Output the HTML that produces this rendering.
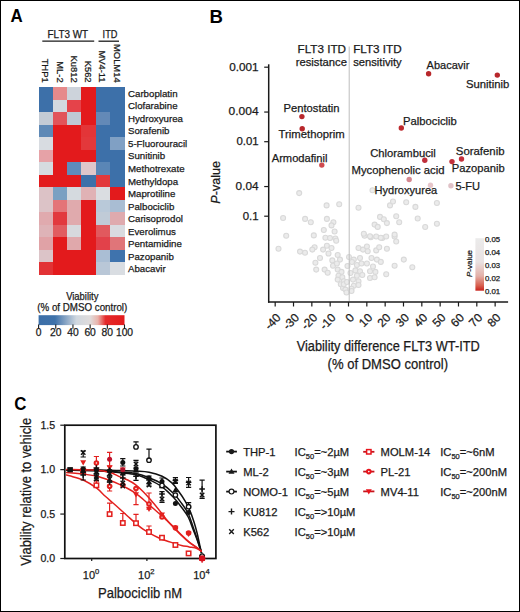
<!DOCTYPE html>
<html><head><meta charset="utf-8"><style>html,body{margin:0;padding:0;background:#fff;}svg{display:block;}text{stroke:#1a1a1a;stroke-width:0.25px;}</style></head>
<body>
<svg width="520" height="612" viewBox="0 0 520 612" font-family='"Liberation Sans", sans-serif'>
<rect x="0" y="0" width="520" height="612" fill="#fff"/>
<text x="10.5" y="22.3" font-size="18.2" font-weight="bold" textLength="12.2" lengthAdjust="spacingAndGlyphs" fill="#000" style="stroke:none">A</text>
<text x="47.6" y="38" font-size="10.2" textLength="40.4" lengthAdjust="spacingAndGlyphs" fill="#1a1a1a">FLT3 WT</text>
<text x="102.6" y="38" font-size="10.2" textLength="14.8" lengthAdjust="spacingAndGlyphs" fill="#1a1a1a">ITD</text>
<line x1="42.3" y1="41.2" x2="94.2" y2="41.2" stroke="#1a1a1a" stroke-width="1.3"/>
<line x1="98.5" y1="41.2" x2="119" y2="41.2" stroke="#1a1a1a" stroke-width="1.3"/>
<text x="0" y="0" font-size="9.4" text-anchor="end" fill="#1a1a1a" transform="translate(42.34,82.6) rotate(90)">THP1</text>
<text x="0" y="0" font-size="9.4" text-anchor="end" fill="#1a1a1a" transform="translate(56.62,82.6) rotate(90)">ML-2</text>
<text x="0" y="0" font-size="9.4" text-anchor="end" fill="#1a1a1a" transform="translate(70.91,82.6) rotate(90)">Ku812</text>
<text x="0" y="0" font-size="9.4" text-anchor="end" fill="#1a1a1a" transform="translate(85.19,82.6) rotate(90)">K562</text>
<text x="0" y="0" font-size="9.4" text-anchor="end" fill="#1a1a1a" transform="translate(99.48,82.6) rotate(90)">MV4-11</text>
<text x="0" y="0" font-size="9.4" text-anchor="end" fill="#1a1a1a" transform="translate(113.76,82.6) rotate(90)">MOLM14</text>
<rect x="38.50" y="87.00" width="14.58" height="12.83" fill="#3d70a9" shape-rendering="crispEdges"/>
<rect x="52.78" y="87.00" width="14.58" height="12.83" fill="#e68a8c" shape-rendering="crispEdges"/>
<rect x="67.07" y="87.00" width="14.58" height="12.83" fill="#cdd3db" shape-rendering="crispEdges"/>
<rect x="81.35" y="87.00" width="14.58" height="12.83" fill="#e31a1c" shape-rendering="crispEdges"/>
<rect x="95.63" y="87.00" width="14.58" height="12.83" fill="#3d70a9" shape-rendering="crispEdges"/>
<rect x="109.92" y="87.00" width="14.58" height="12.83" fill="#3d70a9" shape-rendering="crispEdges"/>
<rect x="38.50" y="99.53" width="14.58" height="12.83" fill="#3d70a9" shape-rendering="crispEdges"/>
<rect x="52.78" y="99.53" width="14.58" height="12.83" fill="#d3d9e0" shape-rendering="crispEdges"/>
<rect x="67.07" y="99.53" width="14.58" height="12.83" fill="#e5434a" shape-rendering="crispEdges"/>
<rect x="81.35" y="99.53" width="14.58" height="12.83" fill="#e31a1c" shape-rendering="crispEdges"/>
<rect x="95.63" y="99.53" width="14.58" height="12.83" fill="#3d70a9" shape-rendering="crispEdges"/>
<rect x="109.92" y="99.53" width="14.58" height="12.83" fill="#3d70a9" shape-rendering="crispEdges"/>
<rect x="38.50" y="112.07" width="14.58" height="12.83" fill="#c3cbd5" shape-rendering="crispEdges"/>
<rect x="52.78" y="112.07" width="14.58" height="12.83" fill="#e2545a" shape-rendering="crispEdges"/>
<rect x="67.07" y="112.07" width="14.58" height="12.83" fill="#bfc9d5" shape-rendering="crispEdges"/>
<rect x="81.35" y="112.07" width="14.58" height="12.83" fill="#e31a1c" shape-rendering="crispEdges"/>
<rect x="95.63" y="112.07" width="14.58" height="12.83" fill="#6389b7" shape-rendering="crispEdges"/>
<rect x="109.92" y="112.07" width="14.58" height="12.83" fill="#3d70a9" shape-rendering="crispEdges"/>
<rect x="38.50" y="124.60" width="14.58" height="12.83" fill="#5e89b6" shape-rendering="crispEdges"/>
<rect x="52.78" y="124.60" width="14.58" height="12.83" fill="#e31a1c" shape-rendering="crispEdges"/>
<rect x="67.07" y="124.60" width="14.58" height="12.83" fill="#e31a1c" shape-rendering="crispEdges"/>
<rect x="81.35" y="124.60" width="14.58" height="12.83" fill="#e33538" shape-rendering="crispEdges"/>
<rect x="95.63" y="124.60" width="14.58" height="12.83" fill="#3d70a9" shape-rendering="crispEdges"/>
<rect x="109.92" y="124.60" width="14.58" height="12.83" fill="#3d70a9" shape-rendering="crispEdges"/>
<rect x="38.50" y="137.13" width="14.58" height="12.83" fill="#d8dce1" shape-rendering="crispEdges"/>
<rect x="52.78" y="137.13" width="14.58" height="12.83" fill="#e31a1c" shape-rendering="crispEdges"/>
<rect x="67.07" y="137.13" width="14.58" height="12.83" fill="#e31a1c" shape-rendering="crispEdges"/>
<rect x="81.35" y="137.13" width="14.58" height="12.83" fill="#e3383b" shape-rendering="crispEdges"/>
<rect x="95.63" y="137.13" width="14.58" height="12.83" fill="#3d70a9" shape-rendering="crispEdges"/>
<rect x="109.92" y="137.13" width="14.58" height="12.83" fill="#80a0c4" shape-rendering="crispEdges"/>
<rect x="38.50" y="149.67" width="14.58" height="12.83" fill="#e6a2a7" shape-rendering="crispEdges"/>
<rect x="52.78" y="149.67" width="14.58" height="12.83" fill="#e31a1c" shape-rendering="crispEdges"/>
<rect x="67.07" y="149.67" width="14.58" height="12.83" fill="#e31a1c" shape-rendering="crispEdges"/>
<rect x="81.35" y="149.67" width="14.58" height="12.83" fill="#e31a1c" shape-rendering="crispEdges"/>
<rect x="95.63" y="149.67" width="14.58" height="12.83" fill="#3d70a9" shape-rendering="crispEdges"/>
<rect x="109.92" y="149.67" width="14.58" height="12.83" fill="#3d70a9" shape-rendering="crispEdges"/>
<rect x="38.50" y="162.20" width="14.58" height="12.83" fill="#d6dbe0" shape-rendering="crispEdges"/>
<rect x="52.78" y="162.20" width="14.58" height="12.83" fill="#e31a1c" shape-rendering="crispEdges"/>
<rect x="67.07" y="162.20" width="14.58" height="12.83" fill="#5f8cbb" shape-rendering="crispEdges"/>
<rect x="81.35" y="162.20" width="14.58" height="12.83" fill="#dfc6ca" shape-rendering="crispEdges"/>
<rect x="95.63" y="162.20" width="14.58" height="12.83" fill="#5a86b6" shape-rendering="crispEdges"/>
<rect x="109.92" y="162.20" width="14.58" height="12.83" fill="#3d70a9" shape-rendering="crispEdges"/>
<rect x="38.50" y="174.73" width="14.58" height="12.83" fill="#e31a1c" shape-rendering="crispEdges"/>
<rect x="52.78" y="174.73" width="14.58" height="12.83" fill="#e31a1c" shape-rendering="crispEdges"/>
<rect x="67.07" y="174.73" width="14.58" height="12.83" fill="#e31a1c" shape-rendering="crispEdges"/>
<rect x="81.35" y="174.73" width="14.58" height="12.83" fill="#3d70a9" shape-rendering="crispEdges"/>
<rect x="95.63" y="174.73" width="14.58" height="12.83" fill="#e2393c" shape-rendering="crispEdges"/>
<rect x="109.92" y="174.73" width="14.58" height="12.83" fill="#3d70a9" shape-rendering="crispEdges"/>
<rect x="38.50" y="187.27" width="14.58" height="12.83" fill="#dcc2c6" shape-rendering="crispEdges"/>
<rect x="52.78" y="187.27" width="14.58" height="12.83" fill="#7aa0c2" shape-rendering="crispEdges"/>
<rect x="67.07" y="187.27" width="14.58" height="12.83" fill="#d5dadf" shape-rendering="crispEdges"/>
<rect x="81.35" y="187.27" width="14.58" height="12.83" fill="#e0b2b5" shape-rendering="crispEdges"/>
<rect x="95.63" y="187.27" width="14.58" height="12.83" fill="#dadde1" shape-rendering="crispEdges"/>
<rect x="109.92" y="187.27" width="14.58" height="12.83" fill="#e31a1c" shape-rendering="crispEdges"/>
<rect x="38.50" y="199.80" width="14.58" height="12.83" fill="#dcc3c7" shape-rendering="crispEdges"/>
<rect x="52.78" y="199.80" width="14.58" height="12.83" fill="#e47478" shape-rendering="crispEdges"/>
<rect x="67.07" y="199.80" width="14.58" height="12.83" fill="#e0aaad" shape-rendering="crispEdges"/>
<rect x="81.35" y="199.80" width="14.58" height="12.83" fill="#e31a1c" shape-rendering="crispEdges"/>
<rect x="95.63" y="199.80" width="14.58" height="12.83" fill="#b9c9d9" shape-rendering="crispEdges"/>
<rect x="109.92" y="199.80" width="14.58" height="12.83" fill="#a9bdd3" shape-rendering="crispEdges"/>
<rect x="38.50" y="212.33" width="14.58" height="12.83" fill="#e0aaae" shape-rendering="crispEdges"/>
<rect x="52.78" y="212.33" width="14.58" height="12.83" fill="#e2393e" shape-rendering="crispEdges"/>
<rect x="67.07" y="212.33" width="14.58" height="12.83" fill="#e0aaad" shape-rendering="crispEdges"/>
<rect x="81.35" y="212.33" width="14.58" height="12.83" fill="#e31a1c" shape-rendering="crispEdges"/>
<rect x="95.63" y="212.33" width="14.58" height="12.83" fill="#c0cbd7" shape-rendering="crispEdges"/>
<rect x="109.92" y="212.33" width="14.58" height="12.83" fill="#dfaaae" shape-rendering="crispEdges"/>
<rect x="38.50" y="224.87" width="14.58" height="12.83" fill="#deb3b7" shape-rendering="crispEdges"/>
<rect x="52.78" y="224.87" width="14.58" height="12.83" fill="#e15c60" shape-rendering="crispEdges"/>
<rect x="67.07" y="224.87" width="14.58" height="12.83" fill="#d7d9dd" shape-rendering="crispEdges"/>
<rect x="81.35" y="224.87" width="14.58" height="12.83" fill="#e31a1c" shape-rendering="crispEdges"/>
<rect x="95.63" y="224.87" width="14.58" height="12.83" fill="#e1595e" shape-rendering="crispEdges"/>
<rect x="109.92" y="224.87" width="14.58" height="12.83" fill="#d9dbe0" shape-rendering="crispEdges"/>
<rect x="38.50" y="237.40" width="14.58" height="12.83" fill="#e0a2a6" shape-rendering="crispEdges"/>
<rect x="52.78" y="237.40" width="14.58" height="12.83" fill="#e31a1c" shape-rendering="crispEdges"/>
<rect x="67.07" y="237.40" width="14.58" height="12.83" fill="#e0a8ab" shape-rendering="crispEdges"/>
<rect x="81.35" y="237.40" width="14.58" height="12.83" fill="#e31a1c" shape-rendering="crispEdges"/>
<rect x="95.63" y="237.40" width="14.58" height="12.83" fill="#e2414a" shape-rendering="crispEdges"/>
<rect x="109.92" y="237.40" width="14.58" height="12.83" fill="#e07579" shape-rendering="crispEdges"/>
<rect x="38.50" y="249.93" width="14.58" height="12.83" fill="#dcc4c8" shape-rendering="crispEdges"/>
<rect x="52.78" y="249.93" width="14.58" height="12.83" fill="#e31a1c" shape-rendering="crispEdges"/>
<rect x="67.07" y="249.93" width="14.58" height="12.83" fill="#e31a1c" shape-rendering="crispEdges"/>
<rect x="81.35" y="249.93" width="14.58" height="12.83" fill="#e31a1c" shape-rendering="crispEdges"/>
<rect x="95.63" y="249.93" width="14.58" height="12.83" fill="#aabed4" shape-rendering="crispEdges"/>
<rect x="109.92" y="249.93" width="14.58" height="12.83" fill="#3f73ad" shape-rendering="crispEdges"/>
<rect x="38.50" y="262.47" width="14.58" height="12.83" fill="#e23235" shape-rendering="crispEdges"/>
<rect x="52.78" y="262.47" width="14.58" height="12.83" fill="#e31a1c" shape-rendering="crispEdges"/>
<rect x="67.07" y="262.47" width="14.58" height="12.83" fill="#e31a1c" shape-rendering="crispEdges"/>
<rect x="81.35" y="262.47" width="14.58" height="12.83" fill="#e31a1c" shape-rendering="crispEdges"/>
<rect x="95.63" y="262.47" width="14.58" height="12.83" fill="#b9c7d7" shape-rendering="crispEdges"/>
<rect x="109.92" y="262.47" width="14.58" height="12.83" fill="#d9dde2" shape-rendering="crispEdges"/>
<text x="128.0" y="96.8" font-size="9.7" fill="#1a1a1a">Carboplatin</text>
<text x="128.0" y="109.33" font-size="9.7" fill="#1a1a1a">Clofarabine</text>
<text x="128.0" y="121.87" font-size="9.7" fill="#1a1a1a">Hydroxyurea</text>
<text x="128.0" y="134.4" font-size="9.7" fill="#1a1a1a">Sorafenib</text>
<text x="128.0" y="146.93" font-size="9.7" fill="#1a1a1a">5-Fluorouracil</text>
<text x="128.0" y="159.47" font-size="9.7" fill="#1a1a1a">Sunitinib</text>
<text x="128.0" y="172.0" font-size="9.7" fill="#1a1a1a">Methotrexate</text>
<text x="128.0" y="184.53" font-size="9.7" fill="#1a1a1a">Methyldopa</text>
<text x="128.0" y="197.07" font-size="9.7" fill="#1a1a1a">Maprotiline</text>
<text x="128.0" y="209.6" font-size="9.7" fill="#1a1a1a">Palbociclib</text>
<text x="128.0" y="222.13" font-size="9.7" fill="#1a1a1a">Carisoprodol</text>
<text x="128.0" y="234.67" font-size="9.7" fill="#1a1a1a">Everolimus</text>
<text x="128.0" y="247.2" font-size="9.7" fill="#1a1a1a">Pentamidine</text>
<text x="128.0" y="259.73" font-size="9.7" fill="#1a1a1a">Pazopanib</text>
<text x="128.0" y="272.27" font-size="9.7" fill="#1a1a1a">Abacavir</text>
<text x="82.3" y="300" font-size="10.2" text-anchor="middle" textLength="32.3" lengthAdjust="spacingAndGlyphs" fill="#1a1a1a">Viability</text>
<text x="82.3" y="311.2" font-size="10.2" text-anchor="middle" textLength="90" lengthAdjust="spacingAndGlyphs" fill="#1a1a1a">(% of DMSO control)</text>
<defs><linearGradient id="cbA" x1="0" x2="1" y1="0" y2="0"><stop offset="0" stop-color="#3b6fa8"/><stop offset="0.19" stop-color="#3f72aa"/><stop offset="0.44" stop-color="#d0d7df"/><stop offset="0.6" stop-color="#e0dcdc"/><stop offset="0.69" stop-color="#e9b3ab"/><stop offset="0.78" stop-color="#e42a2a"/><stop offset="1" stop-color="#e31a1c"/></linearGradient><linearGradient id="cbB" x1="0" x2="0" y1="0" y2="1"><stop offset="0" stop-color="#ebebeb"/><stop offset="0.45" stop-color="#e9e2e2"/><stop offset="0.72" stop-color="#e3b0a8"/><stop offset="0.9" stop-color="#d8604f"/><stop offset="1" stop-color="#c8231d"/></linearGradient></defs>
<rect x="38.6" y="315.2" width="85.9" height="9.9" fill="url(#cbA)"/>
<line x1="38.60" y1="324.5" x2="38.60" y2="328.8" stroke="#1a1a1a" stroke-width="1.1"/>
<text x="38.6" y="336" font-size="10.3" text-anchor="middle" fill="#1a1a1a">0</text>
<line x1="55.78" y1="324.5" x2="55.78" y2="328.8" stroke="#1a1a1a" stroke-width="1.1"/>
<text x="55.78" y="336" font-size="10.3" text-anchor="middle" fill="#1a1a1a">20</text>
<line x1="72.96" y1="324.5" x2="72.96" y2="328.8" stroke="#1a1a1a" stroke-width="1.1"/>
<text x="72.96" y="336" font-size="10.3" text-anchor="middle" fill="#1a1a1a">40</text>
<line x1="90.14" y1="324.5" x2="90.14" y2="328.8" stroke="#1a1a1a" stroke-width="1.1"/>
<text x="90.14" y="336" font-size="10.3" text-anchor="middle" fill="#1a1a1a">60</text>
<line x1="107.32" y1="324.5" x2="107.32" y2="328.8" stroke="#1a1a1a" stroke-width="1.1"/>
<text x="107.32" y="336" font-size="10.3" text-anchor="middle" fill="#1a1a1a">80</text>
<line x1="124.50" y1="324.5" x2="124.50" y2="328.8" stroke="#1a1a1a" stroke-width="1.1"/>
<text x="124.5" y="336" font-size="10.3" text-anchor="middle" fill="#1a1a1a">100</text>
<text x="209.6" y="22.8" font-size="18.6" font-weight="bold" fill="#000" style="stroke:none">B</text>
<line x1="268.7" y1="64.3" x2="268.7" y2="302.7" stroke="#1a1a1a" stroke-width="1.5"/>
<line x1="268.0" y1="302.0" x2="508.1" y2="302.0" stroke="#1a1a1a" stroke-width="1.5"/>
<line x1="264.2" y1="67.20" x2="268.7" y2="67.20" stroke="#1a1a1a" stroke-width="1.2"/>
<text x="258.6" y="70.6" font-size="11.2" text-anchor="end" textLength="29.4" lengthAdjust="spacingAndGlyphs" fill="#1a1a1a">0.001</text>
<line x1="264.2" y1="112.05" x2="268.7" y2="112.05" stroke="#1a1a1a" stroke-width="1.2"/>
<text x="258.6" y="115.45" font-size="11.2" text-anchor="end" textLength="30.0" lengthAdjust="spacingAndGlyphs" fill="#1a1a1a">0.004</text>
<line x1="264.2" y1="141.70" x2="268.7" y2="141.70" stroke="#1a1a1a" stroke-width="1.2"/>
<text x="258.6" y="145.1" font-size="11.2" text-anchor="end" textLength="22.2" lengthAdjust="spacingAndGlyphs" fill="#1a1a1a">0.01</text>
<line x1="264.2" y1="186.55" x2="268.7" y2="186.55" stroke="#1a1a1a" stroke-width="1.2"/>
<text x="258.6" y="189.95" font-size="11.2" text-anchor="end" textLength="23.0" lengthAdjust="spacingAndGlyphs" fill="#1a1a1a">0.04</text>
<line x1="264.2" y1="216.20" x2="268.7" y2="216.20" stroke="#1a1a1a" stroke-width="1.2"/>
<text x="258.6" y="219.6" font-size="11.2" text-anchor="end" textLength="15.9" lengthAdjust="spacingAndGlyphs" fill="#1a1a1a">0.1</text>
<line x1="275.18" y1="302.0" x2="275.18" y2="306.5" stroke="#1a1a1a" stroke-width="1.2"/>
<text x="0" y="0" font-size="11.8" text-anchor="end" fill="#1a1a1a" transform="translate(281.48,318.4) rotate(-45)">-40</text>
<line x1="293.51" y1="302.0" x2="293.51" y2="306.5" stroke="#1a1a1a" stroke-width="1.2"/>
<text x="0" y="0" font-size="11.8" text-anchor="end" fill="#1a1a1a" transform="translate(299.81,318.4) rotate(-45)">-30</text>
<line x1="311.84" y1="302.0" x2="311.84" y2="306.5" stroke="#1a1a1a" stroke-width="1.2"/>
<text x="0" y="0" font-size="11.8" text-anchor="end" fill="#1a1a1a" transform="translate(318.14,318.4) rotate(-45)">-20</text>
<line x1="330.17" y1="302.0" x2="330.17" y2="306.5" stroke="#1a1a1a" stroke-width="1.2"/>
<text x="0" y="0" font-size="11.8" text-anchor="end" fill="#1a1a1a" transform="translate(336.47,318.4) rotate(-45)">-10</text>
<line x1="348.50" y1="302.0" x2="348.50" y2="306.5" stroke="#1a1a1a" stroke-width="1.2"/>
<text x="0" y="0" font-size="11.8" text-anchor="end" fill="#1a1a1a" transform="translate(354.80,318.4) rotate(-45)">0</text>
<line x1="366.83" y1="302.0" x2="366.83" y2="306.5" stroke="#1a1a1a" stroke-width="1.2"/>
<text x="0" y="0" font-size="11.8" text-anchor="end" fill="#1a1a1a" transform="translate(373.13,318.4) rotate(-45)">10</text>
<line x1="385.16" y1="302.0" x2="385.16" y2="306.5" stroke="#1a1a1a" stroke-width="1.2"/>
<text x="0" y="0" font-size="11.8" text-anchor="end" fill="#1a1a1a" transform="translate(391.46,318.4) rotate(-45)">20</text>
<line x1="403.49" y1="302.0" x2="403.49" y2="306.5" stroke="#1a1a1a" stroke-width="1.2"/>
<text x="0" y="0" font-size="11.8" text-anchor="end" fill="#1a1a1a" transform="translate(409.79,318.4) rotate(-45)">30</text>
<line x1="421.82" y1="302.0" x2="421.82" y2="306.5" stroke="#1a1a1a" stroke-width="1.2"/>
<text x="0" y="0" font-size="11.8" text-anchor="end" fill="#1a1a1a" transform="translate(428.12,318.4) rotate(-45)">40</text>
<line x1="440.15" y1="302.0" x2="440.15" y2="306.5" stroke="#1a1a1a" stroke-width="1.2"/>
<text x="0" y="0" font-size="11.8" text-anchor="end" fill="#1a1a1a" transform="translate(446.45,318.4) rotate(-45)">50</text>
<line x1="458.48" y1="302.0" x2="458.48" y2="306.5" stroke="#1a1a1a" stroke-width="1.2"/>
<text x="0" y="0" font-size="11.8" text-anchor="end" fill="#1a1a1a" transform="translate(464.78,318.4) rotate(-45)">60</text>
<line x1="476.81" y1="302.0" x2="476.81" y2="306.5" stroke="#1a1a1a" stroke-width="1.2"/>
<text x="0" y="0" font-size="11.8" text-anchor="end" fill="#1a1a1a" transform="translate(483.11,318.4) rotate(-45)">70</text>
<line x1="495.14" y1="302.0" x2="495.14" y2="306.5" stroke="#1a1a1a" stroke-width="1.2"/>
<text x="0" y="0" font-size="11.8" text-anchor="end" fill="#1a1a1a" transform="translate(501.44,318.4) rotate(-45)">80</text>
<text x="388.2" y="350.9" font-size="14" text-anchor="middle" textLength="183" lengthAdjust="spacingAndGlyphs" fill="#1a1a1a">Viability difference FLT3 WT-ITD</text>
<text x="387.8" y="368.8" font-size="14" text-anchor="middle" textLength="120.5" lengthAdjust="spacingAndGlyphs" fill="#1a1a1a">(% of DMSO control)</text>
<text x="0" y="0" font-size="12.6" text-anchor="middle" fill="#1a1a1a" transform="translate(219.6,182.3) rotate(-90)"><tspan font-style="italic">P</tspan>-value</text>
<text x="346.0" y="52.8" font-size="11.2" text-anchor="end" textLength="48.5" lengthAdjust="spacingAndGlyphs" fill="#1a1a1a">FLT3 ITD</text>
<text x="347.0" y="66.4" font-size="11.2" text-anchor="end" textLength="51.3" lengthAdjust="spacingAndGlyphs" fill="#1a1a1a">resistance</text>
<text x="353.2" y="52.8" font-size="11.2" textLength="48.5" lengthAdjust="spacingAndGlyphs" fill="#1a1a1a">FLT3 ITD</text>
<text x="353.2" y="66.4" font-size="11.2" textLength="48.5" lengthAdjust="spacingAndGlyphs" fill="#1a1a1a">sensitivity</text>
<circle cx="299.2" cy="193.1" r="2.5" fill="#ebebeb" stroke="#d9d9d9" stroke-width="1.1"/>
<circle cx="326.6" cy="205.4" r="2.5" fill="#ebebeb" stroke="#d9d9d9" stroke-width="1.1"/>
<circle cx="339.2" cy="204.3" r="2.5" fill="#ebebeb" stroke="#d9d9d9" stroke-width="1.1"/>
<circle cx="283.1" cy="218" r="2.5" fill="#ebebeb" stroke="#d9d9d9" stroke-width="1.1"/>
<circle cx="305.1" cy="218.9" r="2.5" fill="#ebebeb" stroke="#d9d9d9" stroke-width="1.1"/>
<circle cx="310.8" cy="222.3" r="2.5" fill="#ebebeb" stroke="#d9d9d9" stroke-width="1.1"/>
<circle cx="326.9" cy="218.9" r="2.5" fill="#ebebeb" stroke="#d9d9d9" stroke-width="1.1"/>
<circle cx="333.4" cy="222.3" r="2.5" fill="#ebebeb" stroke="#d9d9d9" stroke-width="1.1"/>
<circle cx="331.5" cy="225.4" r="2.5" fill="#ebebeb" stroke="#d9d9d9" stroke-width="1.1"/>
<circle cx="323.8" cy="230" r="2.5" fill="#ebebeb" stroke="#d9d9d9" stroke-width="1.1"/>
<circle cx="334.6" cy="231.5" r="2.5" fill="#ebebeb" stroke="#d9d9d9" stroke-width="1.1"/>
<circle cx="286.2" cy="235.7" r="2.5" fill="#ebebeb" stroke="#d9d9d9" stroke-width="1.1"/>
<circle cx="313.8" cy="235.4" r="2.5" fill="#ebebeb" stroke="#d9d9d9" stroke-width="1.1"/>
<circle cx="325.4" cy="237.7" r="2.5" fill="#ebebeb" stroke="#d9d9d9" stroke-width="1.1"/>
<circle cx="335.4" cy="238.5" r="2.5" fill="#ebebeb" stroke="#d9d9d9" stroke-width="1.1"/>
<circle cx="330" cy="238" r="2.5" fill="#ebebeb" stroke="#d9d9d9" stroke-width="1.1"/>
<circle cx="336.2" cy="240.8" r="2.5" fill="#ebebeb" stroke="#d9d9d9" stroke-width="1.1"/>
<circle cx="278.5" cy="248.8" r="2.5" fill="#ebebeb" stroke="#d9d9d9" stroke-width="1.1"/>
<circle cx="300" cy="251.6" r="2.5" fill="#ebebeb" stroke="#d9d9d9" stroke-width="1.1"/>
<circle cx="305" cy="252.7" r="2.5" fill="#ebebeb" stroke="#d9d9d9" stroke-width="1.1"/>
<circle cx="314.6" cy="247.3" r="2.5" fill="#ebebeb" stroke="#d9d9d9" stroke-width="1.1"/>
<circle cx="312.3" cy="249.6" r="2.5" fill="#ebebeb" stroke="#d9d9d9" stroke-width="1.1"/>
<circle cx="323.1" cy="249.6" r="2.5" fill="#ebebeb" stroke="#d9d9d9" stroke-width="1.1"/>
<circle cx="326.9" cy="245.8" r="2.5" fill="#ebebeb" stroke="#d9d9d9" stroke-width="1.1"/>
<circle cx="331.5" cy="248" r="2.5" fill="#ebebeb" stroke="#d9d9d9" stroke-width="1.1"/>
<circle cx="328.5" cy="253.5" r="2.5" fill="#ebebeb" stroke="#d9d9d9" stroke-width="1.1"/>
<circle cx="320" cy="258" r="2.5" fill="#ebebeb" stroke="#d9d9d9" stroke-width="1.1"/>
<circle cx="315.4" cy="262.7" r="2.5" fill="#ebebeb" stroke="#d9d9d9" stroke-width="1.1"/>
<circle cx="316.2" cy="269.6" r="2.5" fill="#ebebeb" stroke="#d9d9d9" stroke-width="1.1"/>
<circle cx="324.6" cy="269.6" r="2.5" fill="#ebebeb" stroke="#d9d9d9" stroke-width="1.1"/>
<circle cx="327.7" cy="272.7" r="2.5" fill="#ebebeb" stroke="#d9d9d9" stroke-width="1.1"/>
<circle cx="332.3" cy="260.4" r="2.5" fill="#ebebeb" stroke="#d9d9d9" stroke-width="1.1"/>
<circle cx="337.7" cy="255" r="2.5" fill="#ebebeb" stroke="#d9d9d9" stroke-width="1.1"/>
<circle cx="340" cy="259.6" r="2.5" fill="#ebebeb" stroke="#d9d9d9" stroke-width="1.1"/>
<circle cx="333" cy="265.8" r="2.5" fill="#ebebeb" stroke="#d9d9d9" stroke-width="1.1"/>
<circle cx="336.9" cy="263.5" r="2.5" fill="#ebebeb" stroke="#d9d9d9" stroke-width="1.1"/>
<circle cx="337.7" cy="269.6" r="2.5" fill="#ebebeb" stroke="#d9d9d9" stroke-width="1.1"/>
<circle cx="341.5" cy="271.9" r="2.5" fill="#ebebeb" stroke="#d9d9d9" stroke-width="1.1"/>
<circle cx="338.5" cy="275.8" r="2.5" fill="#ebebeb" stroke="#d9d9d9" stroke-width="1.1"/>
<circle cx="342.3" cy="277.3" r="2.5" fill="#ebebeb" stroke="#d9d9d9" stroke-width="1.1"/>
<circle cx="337.7" cy="279.6" r="2.5" fill="#ebebeb" stroke="#d9d9d9" stroke-width="1.1"/>
<circle cx="340.8" cy="284.2" r="2.5" fill="#ebebeb" stroke="#d9d9d9" stroke-width="1.1"/>
<circle cx="343.8" cy="281.2" r="2.5" fill="#ebebeb" stroke="#d9d9d9" stroke-width="1.1"/>
<circle cx="343" cy="288" r="2.5" fill="#ebebeb" stroke="#d9d9d9" stroke-width="1.1"/>
<circle cx="345.4" cy="289.6" r="2.5" fill="#ebebeb" stroke="#d9d9d9" stroke-width="1.1"/>
<circle cx="364.6" cy="235.8" r="2.5" fill="#ebebeb" stroke="#d9d9d9" stroke-width="1.1"/>
<circle cx="370.8" cy="237.3" r="2.5" fill="#ebebeb" stroke="#d9d9d9" stroke-width="1.1"/>
<circle cx="376.2" cy="236.5" r="2.5" fill="#ebebeb" stroke="#d9d9d9" stroke-width="1.1"/>
<circle cx="382.3" cy="238" r="2.5" fill="#ebebeb" stroke="#d9d9d9" stroke-width="1.1"/>
<circle cx="386.2" cy="236.5" r="2.5" fill="#ebebeb" stroke="#d9d9d9" stroke-width="1.1"/>
<circle cx="394.6" cy="236.5" r="2.5" fill="#ebebeb" stroke="#d9d9d9" stroke-width="1.1"/>
<circle cx="396.2" cy="241.5" r="2.5" fill="#ebebeb" stroke="#d9d9d9" stroke-width="1.1"/>
<circle cx="358.5" cy="248" r="2.5" fill="#ebebeb" stroke="#d9d9d9" stroke-width="1.1"/>
<circle cx="363" cy="249.6" r="2.5" fill="#ebebeb" stroke="#d9d9d9" stroke-width="1.1"/>
<circle cx="366.9" cy="246.5" r="2.5" fill="#ebebeb" stroke="#d9d9d9" stroke-width="1.1"/>
<circle cx="367.7" cy="251.2" r="2.5" fill="#ebebeb" stroke="#d9d9d9" stroke-width="1.1"/>
<circle cx="376.2" cy="250.4" r="2.5" fill="#ebebeb" stroke="#d9d9d9" stroke-width="1.1"/>
<circle cx="379.2" cy="247.3" r="2.5" fill="#ebebeb" stroke="#d9d9d9" stroke-width="1.1"/>
<circle cx="386.9" cy="248.8" r="2.5" fill="#ebebeb" stroke="#d9d9d9" stroke-width="1.1"/>
<circle cx="353.8" cy="259.6" r="2.5" fill="#ebebeb" stroke="#d9d9d9" stroke-width="1.1"/>
<circle cx="360" cy="258" r="2.5" fill="#ebebeb" stroke="#d9d9d9" stroke-width="1.1"/>
<circle cx="356.9" cy="265" r="2.5" fill="#ebebeb" stroke="#d9d9d9" stroke-width="1.1"/>
<circle cx="361.5" cy="263.5" r="2.5" fill="#ebebeb" stroke="#d9d9d9" stroke-width="1.1"/>
<circle cx="366.9" cy="263.5" r="2.5" fill="#ebebeb" stroke="#d9d9d9" stroke-width="1.1"/>
<circle cx="371.5" cy="258" r="2.5" fill="#ebebeb" stroke="#d9d9d9" stroke-width="1.1"/>
<circle cx="376.9" cy="259.6" r="2.5" fill="#ebebeb" stroke="#d9d9d9" stroke-width="1.1"/>
<circle cx="380.8" cy="261.9" r="2.5" fill="#ebebeb" stroke="#d9d9d9" stroke-width="1.1"/>
<circle cx="373" cy="266.5" r="2.5" fill="#ebebeb" stroke="#d9d9d9" stroke-width="1.1"/>
<circle cx="370" cy="271.2" r="2.5" fill="#ebebeb" stroke="#d9d9d9" stroke-width="1.1"/>
<circle cx="375.4" cy="271.9" r="2.5" fill="#ebebeb" stroke="#d9d9d9" stroke-width="1.1"/>
<circle cx="355.4" cy="270.4" r="2.5" fill="#ebebeb" stroke="#d9d9d9" stroke-width="1.1"/>
<circle cx="360" cy="271.2" r="2.5" fill="#ebebeb" stroke="#d9d9d9" stroke-width="1.1"/>
<circle cx="356.9" cy="275.8" r="2.5" fill="#ebebeb" stroke="#d9d9d9" stroke-width="1.1"/>
<circle cx="362.3" cy="275" r="2.5" fill="#ebebeb" stroke="#d9d9d9" stroke-width="1.1"/>
<circle cx="353" cy="279.6" r="2.5" fill="#ebebeb" stroke="#d9d9d9" stroke-width="1.1"/>
<circle cx="358.5" cy="281.2" r="2.5" fill="#ebebeb" stroke="#d9d9d9" stroke-width="1.1"/>
<circle cx="370" cy="278" r="2.5" fill="#ebebeb" stroke="#d9d9d9" stroke-width="1.1"/>
<circle cx="374.6" cy="277.3" r="2.5" fill="#ebebeb" stroke="#d9d9d9" stroke-width="1.1"/>
<circle cx="353.8" cy="285.8" r="2.5" fill="#ebebeb" stroke="#d9d9d9" stroke-width="1.1"/>
<circle cx="358.5" cy="285" r="2.5" fill="#ebebeb" stroke="#d9d9d9" stroke-width="1.1"/>
<circle cx="351.5" cy="288.8" r="2.5" fill="#ebebeb" stroke="#d9d9d9" stroke-width="1.1"/>
<circle cx="386.2" cy="274.2" r="2.5" fill="#ebebeb" stroke="#d9d9d9" stroke-width="1.1"/>
<circle cx="394.6" cy="265.8" r="2.5" fill="#ebebeb" stroke="#d9d9d9" stroke-width="1.1"/>
<circle cx="403.8" cy="259.6" r="2.5" fill="#ebebeb" stroke="#d9d9d9" stroke-width="1.1"/>
<circle cx="412.3" cy="267.3" r="2.5" fill="#ebebeb" stroke="#d9d9d9" stroke-width="1.1"/>
<circle cx="343.8" cy="284.2" r="2.5" fill="#ebebeb" stroke="#d9d9d9" stroke-width="1.1"/>
<circle cx="358.5" cy="207.7" r="2.5" fill="#ebebeb" stroke="#d9d9d9" stroke-width="1.1"/>
<circle cx="372.5" cy="190.2" r="2.5" fill="#ebebeb" stroke="#d9d9d9" stroke-width="1.1"/>
<circle cx="390" cy="205.4" r="2.5" fill="#ebebeb" stroke="#d9d9d9" stroke-width="1.1"/>
<circle cx="393" cy="201.5" r="2.5" fill="#ebebeb" stroke="#d9d9d9" stroke-width="1.1"/>
<circle cx="406.2" cy="202.3" r="2.5" fill="#ebebeb" stroke="#d9d9d9" stroke-width="1.1"/>
<circle cx="415.4" cy="206.9" r="2.5" fill="#ebebeb" stroke="#d9d9d9" stroke-width="1.1"/>
<circle cx="380" cy="216.9" r="2.5" fill="#ebebeb" stroke="#d9d9d9" stroke-width="1.1"/>
<circle cx="383.8" cy="219.2" r="2.5" fill="#ebebeb" stroke="#d9d9d9" stroke-width="1.1"/>
<circle cx="386.9" cy="223.1" r="2.5" fill="#ebebeb" stroke="#d9d9d9" stroke-width="1.1"/>
<circle cx="396.2" cy="216.2" r="2.5" fill="#ebebeb" stroke="#d9d9d9" stroke-width="1.1"/>
<circle cx="399.2" cy="222.3" r="2.5" fill="#ebebeb" stroke="#d9d9d9" stroke-width="1.1"/>
<circle cx="417.7" cy="218.5" r="2.5" fill="#ebebeb" stroke="#d9d9d9" stroke-width="1.1"/>
<circle cx="374.6" cy="224.6" r="2.5" fill="#ebebeb" stroke="#d9d9d9" stroke-width="1.1"/>
<circle cx="377.7" cy="226.9" r="2.5" fill="#ebebeb" stroke="#d9d9d9" stroke-width="1.1"/>
<circle cx="363.8" cy="233.8" r="2.5" fill="#ebebeb" stroke="#d9d9d9" stroke-width="1.1"/>
<circle cx="370" cy="236.2" r="2.5" fill="#ebebeb" stroke="#d9d9d9" stroke-width="1.1"/>
<circle cx="380.8" cy="237.7" r="2.5" fill="#ebebeb" stroke="#d9d9d9" stroke-width="1.1"/>
<circle cx="394.6" cy="234.6" r="2.5" fill="#ebebeb" stroke="#d9d9d9" stroke-width="1.1"/>
<circle cx="436.9" cy="203" r="2.5" fill="#ebebeb" stroke="#d9d9d9" stroke-width="1.1"/>
<circle cx="425.2" cy="227" r="2.5" fill="#ebebeb" stroke="#d9d9d9" stroke-width="1.1"/>
<circle cx="436.9" cy="223.8" r="2.5" fill="#ebebeb" stroke="#d9d9d9" stroke-width="1.1"/>
<circle cx="347.5" cy="266" r="2.5" fill="#ebebeb" stroke="#d9d9d9" stroke-width="1.1"/>
<circle cx="350.5" cy="273" r="2.5" fill="#ebebeb" stroke="#d9d9d9" stroke-width="1.1"/>
<circle cx="347" cy="282" r="2.5" fill="#ebebeb" stroke="#d9d9d9" stroke-width="1.1"/>
<circle cx="351.5" cy="291" r="2.5" fill="#ebebeb" stroke="#d9d9d9" stroke-width="1.1"/>
<circle cx="346.5" cy="292.5" r="2.5" fill="#ebebeb" stroke="#d9d9d9" stroke-width="1.1"/>
<circle cx="352" cy="262" r="2.5" fill="#ebebeb" stroke="#d9d9d9" stroke-width="1.1"/>
<circle cx="349" cy="257" r="2.5" fill="#ebebeb" stroke="#d9d9d9" stroke-width="1.1"/>
<line x1="349.2" y1="46.5" x2="349.2" y2="301" stroke="#bdbdbd" stroke-width="1"/>
<circle cx="428.6" cy="73.8" r="2.7" fill="#b8272b"/>
<circle cx="497.3" cy="75.1" r="2.7" fill="#b8272b"/>
<circle cx="301.9" cy="116.6" r="2.7" fill="#b8272b"/>
<circle cx="302.2" cy="128.7" r="2.7" fill="#b8272b"/>
<circle cx="401.3" cy="128" r="2.7" fill="#bd2a2e"/>
<circle cx="321.8" cy="165.1" r="2.7" fill="#cf4a4e"/>
<circle cx="424.8" cy="160.2" r="2.7" fill="#bf2e3a"/>
<circle cx="461.5" cy="159" r="2.7" fill="#c22f3a"/>
<circle cx="452" cy="161.6" r="2.7" fill="#c2313b"/>
<circle cx="409.2" cy="179.5" r="2.7" fill="#d48890"/>
<circle cx="430.5" cy="185.2" r="2.7" fill="#e6c6ca"/>
<circle cx="450.9" cy="185.8" r="2.7" fill="#e0c2c7"/>
<text x="426.6" y="68.7" font-size="11.2" textLength="42.8" lengthAdjust="spacingAndGlyphs" fill="#1a1a1a">Abacavir</text>
<text x="466.0" y="87.9" font-size="11.2" textLength="43.3" lengthAdjust="spacingAndGlyphs" fill="#1a1a1a">Sunitinib</text>
<text x="283.5" y="112.3" font-size="11.2" textLength="56.1" lengthAdjust="spacingAndGlyphs" fill="#1a1a1a">Pentostatin</text>
<text x="278.6" y="138.3" font-size="11.2" textLength="66.2" lengthAdjust="spacingAndGlyphs" fill="#1a1a1a">Trimethoprim</text>
<text x="403.1" y="124.5" font-size="11.2" textLength="53.7" lengthAdjust="spacingAndGlyphs" fill="#1a1a1a">Palbociclib</text>
<text x="271.7" y="162.2" font-size="11.2" textLength="55.8" lengthAdjust="spacingAndGlyphs" fill="#1a1a1a">Armodafinil</text>
<text x="370.2" y="156.8" font-size="11.2" textLength="65.6" lengthAdjust="spacingAndGlyphs" fill="#1a1a1a">Chlorambucil</text>
<text x="455.8" y="154.7" font-size="11.2" textLength="48.8" lengthAdjust="spacingAndGlyphs" fill="#1a1a1a">Sorafenib</text>
<text x="351.5" y="173.7" font-size="11.2" textLength="93" lengthAdjust="spacingAndGlyphs" fill="#1a1a1a">Mycophenolic acid</text>
<text x="451.8" y="172.0" font-size="11.2" textLength="52.8" lengthAdjust="spacingAndGlyphs" fill="#1a1a1a">Pazopanib</text>
<text x="374.5" y="193.7" font-size="11.2" textLength="62.7" lengthAdjust="spacingAndGlyphs" fill="#1a1a1a">Hydroxyurea</text>
<text x="455.4" y="190.2" font-size="11.2" textLength="24.6" lengthAdjust="spacingAndGlyphs" fill="#1a1a1a">5-FU</text>
<rect x="475.4" y="238.2" width="8.6" height="52.5" fill="url(#cbB)"/>
<text x="485.0" y="242.3" font-size="7.4" textLength="15.2" lengthAdjust="spacingAndGlyphs" fill="#1a1a1a">0.05</text>
<text x="485.0" y="255.2" font-size="7.4" textLength="15.2" lengthAdjust="spacingAndGlyphs" fill="#1a1a1a">0.04</text>
<text x="485.0" y="268.1" font-size="7.4" textLength="15.2" lengthAdjust="spacingAndGlyphs" fill="#1a1a1a">0.03</text>
<text x="485.0" y="281.0" font-size="7.4" textLength="15.2" lengthAdjust="spacingAndGlyphs" fill="#1a1a1a">0.02</text>
<text x="485.0" y="293.9" font-size="7.4" textLength="15.2" lengthAdjust="spacingAndGlyphs" fill="#1a1a1a">0.01</text>
<text x="0" y="0" font-size="8" text-anchor="middle" fill="#1a1a1a" transform="translate(471.8,263.5) rotate(-90)"><tspan font-style="italic">P</tspan>-value</text>
<text x="14.2" y="409.9" font-size="19" font-weight="bold" textLength="12.2" lengthAdjust="spacingAndGlyphs" fill="#000" style="stroke:none">C</text>
<rect x="64.8" y="425.2" width="151.10" height="133.30" fill="none" stroke="#111" stroke-width="1.7"/>
<line x1="60.3" y1="425.20" x2="64.8" y2="425.20" stroke="#1a1a1a" stroke-width="1.2"/>
<text x="55.2" y="428.9" font-size="10.6" text-anchor="end" fill="#1a1a1a">1.5</text>
<line x1="60.3" y1="469.63" x2="64.8" y2="469.63" stroke="#1a1a1a" stroke-width="1.2"/>
<text x="55.2" y="473.33" font-size="10.6" text-anchor="end" fill="#1a1a1a">1.0</text>
<line x1="60.3" y1="514.07" x2="64.8" y2="514.07" stroke="#1a1a1a" stroke-width="1.2"/>
<text x="55.2" y="517.77" font-size="10.6" text-anchor="end" fill="#1a1a1a">0.5</text>
<line x1="60.3" y1="558.50" x2="64.8" y2="558.50" stroke="#1a1a1a" stroke-width="1.2"/>
<text x="55.2" y="562.2" font-size="10.6" text-anchor="end" fill="#1a1a1a">0.0</text>
<line x1="91.70" y1="558.5" x2="91.70" y2="561" stroke="#1a1a1a" stroke-width="1.2"/>
<text x="91.10" y="578.8" font-size="11" text-anchor="middle" fill="#1a1a1a">10<tspan font-size="7.6" dy="-4.6">0</tspan></text>
<line x1="146.90" y1="558.5" x2="146.90" y2="561" stroke="#1a1a1a" stroke-width="1.2"/>
<text x="146.30" y="578.8" font-size="11" text-anchor="middle" fill="#1a1a1a">10<tspan font-size="7.6" dy="-4.6">2</tspan></text>
<line x1="202.10" y1="558.5" x2="202.10" y2="561" stroke="#1a1a1a" stroke-width="1.2"/>
<text x="201.50" y="578.8" font-size="11" text-anchor="middle" fill="#1a1a1a">10<tspan font-size="7.6" dy="-4.6">4</tspan></text>
<text x="140" y="598.3" font-size="14.3" text-anchor="middle" textLength="84" lengthAdjust="spacingAndGlyphs" fill="#1a1a1a">Palbociclib nM</text>
<text x="0" y="0" text-anchor="middle" fill="#1a1a1a" font-size="15" transform="translate(30.6,491.8) rotate(-90)" textLength="148" lengthAdjust="spacingAndGlyphs">Viability relative to vehicle</text>
<path d="M66.00,469.80 C71.67,469.83 91.00,469.88 100.00,470.00 C109.00,470.12 114.00,470.32 120.00,470.50 C126.00,470.68 131.17,470.82 136.00,471.10 C140.83,471.38 144.65,471.33 149.00,472.20 C153.35,473.07 158.28,474.52 162.10,476.30 C165.92,478.08 169.18,480.45 171.90,482.90 C174.62,485.35 176.22,488.02 178.40,491.00 C180.58,493.98 183.08,497.53 185.00,500.80 C186.92,504.07 188.40,507.07 189.90,510.60 C191.40,514.13 192.78,518.18 194.00,522.00 C195.22,525.82 196.25,529.68 197.20,533.50 C198.15,537.32 198.97,541.65 199.70,544.90 C200.43,548.15 201.28,551.65 201.60,553.00" fill="none" stroke="#111" stroke-width="1.5"/>
<path d="M66.00,470.20 C71.67,470.33 91.00,470.57 100.00,471.00 C109.00,471.43 114.00,472.18 120.00,472.80 C126.00,473.42 131.17,473.57 136.00,474.70 C140.83,475.83 144.65,477.58 149.00,479.60 C153.35,481.62 158.00,483.82 162.10,486.80 C166.20,489.78 170.33,494.05 173.60,497.50 C176.87,500.95 179.27,504.25 181.70,507.50 C184.13,510.75 186.30,513.33 188.20,517.00 C190.10,520.67 191.60,525.67 193.10,529.50 C194.60,533.33 195.78,536.08 197.20,540.00 C198.62,543.92 200.87,550.83 201.60,553.00" fill="none" stroke="#111" stroke-width="1.5"/>
<path d="M66.00,470.00 C71.67,470.10 91.00,470.27 100.00,470.60 C109.00,470.93 114.00,471.50 120.00,472.00 C126.00,472.50 131.17,472.63 136.00,473.60 C140.83,474.57 144.65,476.07 149.00,477.80 C153.35,479.53 158.00,481.38 162.10,484.00 C166.20,486.62 170.33,490.25 173.60,493.50 C176.87,496.75 179.27,500.17 181.70,503.50 C184.13,506.83 186.30,509.58 188.20,513.50 C190.10,517.42 191.60,522.75 193.10,527.00 C194.60,531.25 195.78,534.67 197.20,539.00 C198.62,543.33 200.87,550.67 201.60,553.00" fill="none" stroke="#111" stroke-width="1.5"/>
<path d="M66.00,469.50 C71.00,469.63 88.67,469.80 96.00,470.30 C103.33,470.80 106.00,471.40 110.00,472.50 C114.00,473.60 117.05,475.65 120.00,476.90 C122.95,478.15 125.13,478.72 127.70,480.00 C130.27,481.28 132.85,482.68 135.40,484.60 C137.95,486.52 140.43,488.93 143.00,491.50 C145.57,494.07 148.22,497.05 150.80,500.00 C153.38,502.95 155.93,506.00 158.50,509.20 C161.07,512.40 163.65,516.12 166.20,519.20 C168.75,522.28 171.25,525.00 173.80,527.70 C176.35,530.40 178.93,532.97 181.50,535.40 C184.07,537.83 186.63,540.25 189.20,542.30 C191.77,544.35 194.85,546.17 196.90,547.70 C198.95,549.23 200.73,550.87 201.50,551.50" fill="none" stroke="#e3201e" stroke-width="1.5"/>
<path d="M66.00,472.60 C68.33,472.80 75.00,473.23 80.00,473.80 C85.00,474.37 91.00,474.88 96.00,476.00 C101.00,477.12 106.00,479.07 110.00,480.50 C114.00,481.93 117.05,483.27 120.00,484.60 C122.95,485.93 125.13,487.08 127.70,488.50 C130.27,489.92 132.85,491.32 135.40,493.10 C137.95,494.88 140.43,497.02 143.00,499.20 C145.57,501.38 148.22,503.90 150.80,506.20 C153.38,508.50 155.93,510.70 158.50,513.00 C161.07,515.30 163.65,517.67 166.20,520.00 C168.75,522.33 171.25,524.50 173.80,527.00 C176.35,529.50 178.93,532.50 181.50,535.00 C184.07,537.50 186.63,539.88 189.20,542.00 C191.77,544.12 194.85,546.12 196.90,547.70 C198.95,549.28 200.73,550.87 201.50,551.50" fill="none" stroke="#e3201e" stroke-width="1.5"/>
<path d="M66.00,474.80 C66.58,474.97 66.47,474.85 69.50,475.80 C72.53,476.75 79.67,478.43 84.20,480.50 C88.73,482.57 93.18,485.57 96.70,488.20 C100.22,490.83 102.58,493.83 105.30,496.30 C108.02,498.77 110.55,500.85 113.00,503.00 C115.45,505.15 117.55,507.00 120.00,509.20 C122.45,511.40 125.13,513.88 127.70,516.20 C130.27,518.52 132.85,520.93 135.40,523.10 C137.95,525.27 140.43,527.42 143.00,529.20 C145.57,530.98 148.22,532.38 150.80,533.80 C153.38,535.22 155.93,536.53 158.50,537.70 C161.07,538.87 163.65,539.90 166.20,540.80 C168.75,541.70 171.25,542.33 173.80,543.10 C176.35,543.87 178.93,544.77 181.50,545.40 C184.07,546.03 186.63,546.38 189.20,546.90 C191.77,547.42 194.85,547.73 196.90,548.50 C198.95,549.27 200.73,551.00 201.50,551.50" fill="none" stroke="#e3201e" stroke-width="1.5"/>
<path d="M83.20,451.00 V457.00 M80.60,451.00 H85.80 M80.60,457.00 H85.80" stroke="#111" stroke-width="1.2" fill="none"/>
<path d="M83.20,467.00 V480.00 M80.60,467.00 H85.80 M80.60,480.00 H85.80" stroke="#111" stroke-width="1.2" fill="none"/>
<path d="M96.40,456.50 V470.00 M93.80,456.50 H99.00 M93.80,470.00 H99.00" stroke="#e3201e" stroke-width="1.2" fill="none"/>
<path d="M96.40,470.00 V480.40 M93.80,470.00 H99.00 M93.80,480.40 H99.00" stroke="#111" stroke-width="1.2" fill="none"/>
<path d="M109.60,452.30 V466.00 M107.00,452.30 H112.20 M107.00,466.00 H112.20" stroke="#e3201e" stroke-width="1.2" fill="none"/>
<path d="M109.60,470.00 V482.00 M107.00,470.00 H112.20 M107.00,482.00 H112.20" stroke="#111" stroke-width="1.2" fill="none"/>
<path d="M122.80,458.70 V466.00 M120.20,458.70 H125.40 M120.20,466.00 H125.40" stroke="#111" stroke-width="1.2" fill="none"/>
<path d="M122.80,475.00 V485.20 M120.20,475.00 H125.40 M120.20,485.20 H125.40" stroke="#111" stroke-width="1.2" fill="none"/>
<path d="M136.00,441.90 V447.00 M133.40,441.90 H138.60 M133.40,447.00 H138.60" stroke="#111" stroke-width="1.2" fill="none"/>
<path d="M136.00,460.40 V468.00 M133.40,460.40 H138.60 M133.40,468.00 H138.60" stroke="#111" stroke-width="1.2" fill="none"/>
<path d="M136.00,473.00 V480.40 M133.40,473.00 H138.60 M133.40,480.40 H138.60" stroke="#111" stroke-width="1.2" fill="none"/>
<path d="M149.00,449.10 V460.20 M146.40,449.10 H151.60 M146.40,460.20 H151.60" stroke="#111" stroke-width="1.2" fill="none"/>
<path d="M149.00,476.00 V486.00 M146.40,476.00 H151.60 M146.40,486.00 H151.60" stroke="#111" stroke-width="1.2" fill="none"/>
<path d="M162.00,478.00 V487.00 M159.40,478.00 H164.60 M159.40,487.00 H164.60" stroke="#111" stroke-width="1.2" fill="none"/>
<path d="M162.00,491.70 V502.30 M159.40,491.70 H164.60 M159.40,502.30 H164.60" stroke="#111" stroke-width="1.2" fill="none"/>
<path d="M175.40,477.50 V483.30 M172.80,477.50 H178.00 M172.80,483.30 H178.00" stroke="#111" stroke-width="1.2" fill="none"/>
<path d="M188.60,477.50 V487.30 M186.00,477.50 H191.20 M186.00,487.30 H191.20" stroke="#111" stroke-width="1.2" fill="none"/>
<path d="M202.10,480.20 V498.30 M199.50,480.20 H204.70 M199.50,498.30 H204.70" stroke="#111" stroke-width="1.2" fill="none"/>
<path d="M188.60,502.70 V506.70 M186.00,502.70 H191.20 M186.00,506.70 H191.20" stroke="#111" stroke-width="1.2" fill="none"/>
<path d="M109.60,503.10 V514.10 M107.00,503.10 H112.20 M107.00,514.10 H112.20" stroke="#e3201e" stroke-width="1.2" fill="none"/>
<path d="M122.80,513.50 V523.00 M120.20,513.50 H125.40 M120.20,523.00 H125.40" stroke="#e3201e" stroke-width="1.2" fill="none"/>
<path d="M136.00,514.30 V523.20 M133.40,514.30 H138.60 M133.40,523.20 H138.60" stroke="#e3201e" stroke-width="1.2" fill="none"/>
<path d="M149.00,526.00 V532.00 M146.40,526.00 H151.60 M146.40,532.00 H151.60" stroke="#e3201e" stroke-width="1.2" fill="none"/>
<path d="M136.00,488.50 V504.60 M133.40,488.50 H138.60 M133.40,504.60 H138.60" stroke="#e3201e" stroke-width="1.2" fill="none"/>
<path d="M149.00,493.00 V509.20 M146.40,493.00 H151.60 M146.40,509.20 H151.60" stroke="#e3201e" stroke-width="1.2" fill="none"/>
<path d="M109.60,486.20 V491.00 M107.00,486.20 H112.20 M107.00,491.00 H112.20" stroke="#e3201e" stroke-width="1.2" fill="none"/>
<path d="M96.40,481.00 V487.50 M93.80,481.00 H99.00 M93.80,487.50 H99.00" stroke="#e3201e" stroke-width="1.2" fill="none"/>
<rect x="81.00" y="468.80" width="4.40" height="4.40" fill="#fff" stroke="#e3201e" stroke-width="1.5"/>
<rect x="94.20" y="483.10" width="4.40" height="4.40" fill="#fff" stroke="#e3201e" stroke-width="1.5"/>
<rect x="107.40" y="511.90" width="4.40" height="4.40" fill="#fff" stroke="#e3201e" stroke-width="1.5"/>
<rect x="120.60" y="520.80" width="4.40" height="4.40" fill="#fff" stroke="#e3201e" stroke-width="1.5"/>
<rect x="133.80" y="521.00" width="4.40" height="4.40" fill="#fff" stroke="#e3201e" stroke-width="1.5"/>
<rect x="146.80" y="529.80" width="4.40" height="4.40" fill="#fff" stroke="#e3201e" stroke-width="1.5"/>
<rect x="159.80" y="535.50" width="4.40" height="4.40" fill="#fff" stroke="#e3201e" stroke-width="1.5"/>
<rect x="173.20" y="542.80" width="4.40" height="4.40" fill="#fff" stroke="#e3201e" stroke-width="1.5"/>
<rect x="186.40" y="551.20" width="4.40" height="4.40" fill="#fff" stroke="#e3201e" stroke-width="1.5"/>
<rect x="199.90" y="555.80" width="4.40" height="4.40" fill="#fff" stroke="#e3201e" stroke-width="1.5"/>
<circle cx="83.20" cy="470.00" r="1.80" fill="#fff" stroke="#e3201e" stroke-width="2.0"/>
<circle cx="96.40" cy="463.00" r="1.80" fill="#fff" stroke="#e3201e" stroke-width="2.0"/>
<circle cx="109.60" cy="486.20" r="1.80" fill="#fff" stroke="#e3201e" stroke-width="2.0"/>
<circle cx="122.80" cy="485.00" r="1.80" fill="#fff" stroke="#e3201e" stroke-width="2.0"/>
<circle cx="136.00" cy="488.50" r="1.80" fill="#fff" stroke="#e3201e" stroke-width="2.0"/>
<circle cx="149.00" cy="504.00" r="1.80" fill="#fff" stroke="#e3201e" stroke-width="2.0"/>
<circle cx="162.00" cy="517.00" r="1.80" fill="#fff" stroke="#e3201e" stroke-width="2.0"/>
<circle cx="175.40" cy="527.70" r="1.80" fill="#fff" stroke="#e3201e" stroke-width="2.0"/>
<circle cx="188.60" cy="533.00" r="1.80" fill="#fff" stroke="#e3201e" stroke-width="2.0"/>
<circle cx="202.10" cy="558.00" r="1.80" fill="#fff" stroke="#e3201e" stroke-width="2.0"/>
<path d="M80.20,460.30 L83.20,465.50 L86.20,460.30 Z" fill="#e3201e"/>
<path d="M93.40,467.80 L96.40,473.00 L99.40,467.80 Z" fill="#e3201e"/>
<path d="M106.60,465.20 L109.60,470.40 L112.60,465.20 Z" fill="#e3201e"/>
<path d="M119.80,467.60 L122.80,472.80 L125.80,467.60 Z" fill="#e3201e"/>
<path d="M133.00,492.20 L136.00,497.40 L139.00,492.20 Z" fill="#e3201e"/>
<path d="M146.00,506.80 L149.00,512.00 L152.00,506.80 Z" fill="#e3201e"/>
<path d="M159.00,512.40 L162.00,517.60 L165.00,512.40 Z" fill="#e3201e"/>
<path d="M172.40,525.80 L175.40,531.00 L178.40,525.80 Z" fill="#e3201e"/>
<path d="M185.60,531.80 L188.60,537.00 L191.60,531.80 Z" fill="#e3201e"/>
<path d="M199.10,555.80 L202.10,561.00 L205.10,555.80 Z" fill="#e3201e"/>
<path d="M80.40,472.00 H86.00 M83.20,469.20 V474.80" stroke="#111" stroke-width="1.4"/>
<path d="M93.60,474.00 H99.20 M96.40,471.20 V476.80" stroke="#111" stroke-width="1.4"/>
<path d="M106.80,476.00 H112.40 M109.60,473.20 V478.80" stroke="#111" stroke-width="1.4"/>
<path d="M120.00,478.00 H125.60 M122.80,475.20 V480.80" stroke="#111" stroke-width="1.4"/>
<path d="M133.20,476.20 H138.80 M136.00,473.40 V479.00" stroke="#111" stroke-width="1.4"/>
<path d="M146.20,480.00 H151.80 M149.00,477.20 V482.80" stroke="#111" stroke-width="1.4"/>
<path d="M159.20,494.00 H164.80 M162.00,491.20 V496.80" stroke="#111" stroke-width="1.4"/>
<path d="M172.60,480.50 H178.20 M175.40,477.70 V483.30" stroke="#111" stroke-width="1.4"/>
<path d="M185.80,482.40 H191.40 M188.60,479.60 V485.20" stroke="#111" stroke-width="1.4"/>
<path d="M199.30,489.00 H204.90 M202.10,486.20 V491.80" stroke="#111" stroke-width="1.4"/>
<path d="M81.00,450.30 L85.40,454.70 M81.00,454.70 L85.40,450.30" stroke="#111" stroke-width="1.4"/>
<path d="M94.20,474.80 L98.60,479.20 M94.20,479.20 L98.60,474.80" stroke="#111" stroke-width="1.4"/>
<path d="M107.40,476.80 L111.80,481.20 M107.40,481.20 L111.80,476.80" stroke="#111" stroke-width="1.4"/>
<path d="M120.60,480.80 L125.00,485.20 M120.60,485.20 L125.00,480.80" stroke="#111" stroke-width="1.4"/>
<path d="M133.80,461.80 L138.20,466.20 M133.80,466.20 L138.20,461.80" stroke="#111" stroke-width="1.4"/>
<path d="M146.80,482.80 L151.20,487.20 M146.80,487.20 L151.20,482.80" stroke="#111" stroke-width="1.4"/>
<path d="M159.80,496.80 L164.20,501.20 M159.80,501.20 L164.20,496.80" stroke="#111" stroke-width="1.4"/>
<path d="M173.20,478.80 L177.60,483.20 M173.20,483.20 L177.60,478.80" stroke="#111" stroke-width="1.4"/>
<path d="M186.40,480.80 L190.80,485.20 M186.40,485.20 L190.80,480.80" stroke="#111" stroke-width="1.4"/>
<path d="M199.90,492.80 L204.30,497.20 M199.90,497.20 L204.30,492.80" stroke="#111" stroke-width="1.4"/>
<path d="M80.20,473.20 L83.20,468.00 L86.20,473.20 Z" fill="#111"/>
<path d="M93.40,474.20 L96.40,469.00 L99.40,474.20 Z" fill="#111"/>
<path d="M106.60,472.20 L109.60,467.00 L112.60,472.20 Z" fill="#111"/>
<path d="M119.80,475.20 L122.80,470.00 L125.80,475.20 Z" fill="#111"/>
<path d="M133.00,472.20 L136.00,467.00 L139.00,472.20 Z" fill="#111"/>
<path d="M146.00,484.20 L149.00,479.00 L152.00,484.20 Z" fill="#111"/>
<path d="M159.00,488.20 L162.00,483.00 L165.00,488.20 Z" fill="#111"/>
<path d="M172.40,492.20 L175.40,487.00 L178.40,492.20 Z" fill="#111"/>
<path d="M185.60,508.20 L188.60,503.00 L191.60,508.20 Z" fill="#111"/>
<path d="M199.10,558.20 L202.10,553.00 L205.10,558.20 Z" fill="#111"/>
<circle cx="83.20" cy="469.00" r="2.50" fill="#111"/>
<circle cx="96.40" cy="470.00" r="2.50" fill="#111"/>
<circle cx="109.60" cy="471.00" r="2.50" fill="#111"/>
<circle cx="122.80" cy="462.60" r="2.50" fill="#111"/>
<circle cx="136.00" cy="468.80" r="2.50" fill="#111"/>
<circle cx="149.00" cy="478.00" r="2.50" fill="#111"/>
<circle cx="162.00" cy="481.50" r="2.50" fill="#111"/>
<circle cx="175.40" cy="503.50" r="2.50" fill="#111"/>
<circle cx="188.60" cy="512.50" r="2.50" fill="#111"/>
<circle cx="202.10" cy="557.00" r="2.50" fill="#111"/>
<circle cx="136.00" cy="446.90" r="2.20" fill="#fff" stroke="#111" stroke-width="1.3"/>
<circle cx="149.00" cy="460.20" r="2.20" fill="#fff" stroke="#111" stroke-width="1.3"/>
<circle cx="162.00" cy="485.40" r="2.20" fill="#fff" stroke="#111" stroke-width="1.3"/>
<circle cx="175.40" cy="495.00" r="2.20" fill="#fff" stroke="#111" stroke-width="1.3"/>
<circle cx="188.60" cy="506.70" r="2.20" fill="#fff" stroke="#111" stroke-width="1.3"/>
<circle cx="202.10" cy="556.00" r="2.20" fill="#fff" stroke="#111" stroke-width="1.3"/>
<path d="M80.40,475.00 H86.00 M83.20,472.20 V477.80" stroke="#111" stroke-width="1.4"/>
<path d="M94.20,476.80 L98.60,481.20 M94.20,481.20 L98.60,476.80" stroke="#111" stroke-width="1.4"/>
<path d="M106.80,482.00 H112.40 M109.60,479.20 V484.80" stroke="#111" stroke-width="1.4"/>
<path d="M120.60,483.80 L125.00,488.20 M120.60,488.20 L125.00,483.80" stroke="#111" stroke-width="1.4"/>
<path d="M93.60,468.00 H99.20 M96.40,465.20 V470.80" stroke="#111" stroke-width="1.4"/>
<path d="M107.40,471.30 L111.80,475.70 M107.40,475.70 L111.80,471.30" stroke="#111" stroke-width="1.4"/>
<circle cx="109.60" cy="459.20" r="2.50" fill="#c0102a"/>
<circle cx="122.80" cy="469.80" r="2.50" fill="#b0102a"/>
<circle cx="202.10" cy="558.30" r="3.1" fill="#d8101c"/><path d="M198.90,558.30 H205.30 M202.10,558.30 V562.80" stroke="#d8101c" stroke-width="1.3"/>
<rect x="67.3" y="467.1" width="5.6" height="5.2" fill="#111"/>
<line x1="226.2" y1="451.6" x2="236.9" y2="451.6" stroke="#111" stroke-width="1.8"/>
<circle cx="231.5" cy="451.6" r="2.6" fill="#1a1a1a"/>
<text x="243.2" y="455.7" font-size="11.2" fill="#1a1a1a">THP-1</text>
<text x="294.6" y="455.70" font-size="11.2" fill="#1a1a1a">IC<tspan font-size="7.5" dy="3">50</tspan><tspan dy="-3">=~2µM</tspan></text>
<line x1="226.2" y1="471.6" x2="236.9" y2="471.6" stroke="#111" stroke-width="1.8"/>
<path d="M228.5,473.8 L231.5,468.6 L234.5,473.8 Z" fill="#1a1a1a"/>
<text x="243.2" y="475.7" font-size="11.2" fill="#1a1a1a">ML-2</text>
<text x="294.6" y="475.70" font-size="11.2" fill="#1a1a1a">IC<tspan font-size="7.5" dy="3">50</tspan><tspan dy="-3">=~3µM</tspan></text>
<line x1="226.2" y1="491.6" x2="236.9" y2="491.6" stroke="#111" stroke-width="1.8"/>
<circle cx="231.5" cy="491.6" r="2.4" fill="#fff" stroke="#1a1a1a" stroke-width="1.2"/>
<text x="243.2" y="495.7" font-size="11.2" fill="#1a1a1a">NOMO-1</text>
<text x="294.6" y="495.70" font-size="11.2" fill="#1a1a1a">IC<tspan font-size="7.5" dy="3">50</tspan><tspan dy="-3">=~5µM</tspan></text>
<path d="M228.5,511.6 H234.5 M231.5,508.6 V514.6" stroke="#1a1a1a" stroke-width="1.4"/>
<text x="243.2" y="515.7" font-size="11.2" fill="#1a1a1a">KU812</text>
<text x="294.6" y="515.70" font-size="11.2" fill="#1a1a1a">IC<tspan font-size="7.5" dy="3">50</tspan><tspan dy="-3">=&gt;10µM</tspan></text>
<path d="M229.2,529.3000000000001 L233.8,533.9 M229.2,533.9 L233.8,529.3000000000001" stroke="#1a1a1a" stroke-width="1.4"/>
<text x="243.2" y="535.7" font-size="11.2" fill="#1a1a1a">K562</text>
<text x="294.6" y="535.70" font-size="11.2" fill="#1a1a1a">IC<tspan font-size="7.5" dy="3">50</tspan><tspan dy="-3">=&gt;10µM</tspan></text>
<line x1="363.2" y1="451.8" x2="374.4" y2="451.8" stroke="#c8141c" stroke-width="1.8"/>
<rect x="366.60" y="449.60" width="4.40" height="4.40" fill="#fff" stroke="#e8141c" stroke-width="1.5"/>
<text x="380.6" y="455.9" font-size="11.2" fill="#1a1a1a">MOLM-14</text>
<text x="440.2" y="455.90" font-size="11.2" fill="#1a1a1a">IC<tspan font-size="7.5" dy="3">50</tspan><tspan dy="-3">=~6nM</tspan></text>
<line x1="363.2" y1="471.6" x2="374.4" y2="471.6" stroke="#c8141c" stroke-width="1.8"/>
<circle cx="368.80" cy="471.60" r="1.80" fill="#fff" stroke="#e8141c" stroke-width="2.0"/>
<text x="380.6" y="475.7" font-size="11.2" fill="#1a1a1a">PL-21</text>
<text x="440.2" y="475.70" font-size="11.2" fill="#1a1a1a">IC<tspan font-size="7.5" dy="3">50</tspan><tspan dy="-3">=~200nM</tspan></text>
<line x1="363.2" y1="491.40000000000003" x2="374.4" y2="491.40000000000003" stroke="#c8141c" stroke-width="1.8"/>
<path d="M365.80,489.20 L368.80,494.40 L371.80,489.20 Z" fill="#e8141c"/>
<text x="380.6" y="495.5" font-size="11.2" fill="#1a1a1a">MV4-11</text>
<text x="440.2" y="495.50" font-size="11.2" fill="#1a1a1a">IC<tspan font-size="7.5" dy="3">50</tspan><tspan dy="-3">=~200nM</tspan></text>
<rect x="0.5" y="0.5" width="519" height="611" fill="none" stroke="#000" stroke-width="1"/>
</svg>
</body></html>
